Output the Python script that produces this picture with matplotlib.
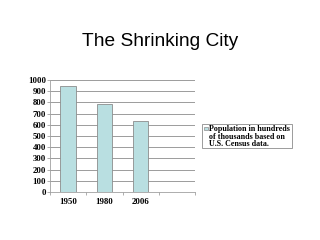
import numpy as np
import matplotlib
matplotlib.use('Agg')
import matplotlib.pyplot as plt
from matplotlib.patches import Rectangle

years = ['1950', '1980', '2006']
population = [945, 785, 630]
legend_label = 'Population in hundreds\nof thousands based on\nU.S. Census data.'
title = 'The Shrinking City'

fig = plt.figure(figsize=(3.2, 2.4), dpi=100)
fig.text(0.5, 0.825, title, ha='center', va='center', fontsize=13.8,
         family='Liberation Sans')

ax = fig.add_axes([50 / 320, 1 - 192 / 240, 145 / 320, 112 / 240])
x = np.arange(len(years))
bar_color = '#b9dfe1'
ax.bar(x, population, width=0.43, color=bar_color, edgecolor='#8c8c8c',
       linewidth=0.6, zorder=3)

ax.set_xlim(-0.5, 3.5)
ax.set_ylim(0, 1000)
ax.set_yticks(range(0, 1001, 100))
ax.set_xticks(x)
ax.set_xticklabels(years)
ax.set_xticks(np.arange(-0.5, 4.0, 1.0), minor=True)
ax.tick_params(axis='x', which='major', length=0, pad=4)
ax.tick_params(axis='x', which='minor', length=2, color='#a0a0a0', width=0.6)
ax.tick_params(axis='y', length=2, color='#a0a0a0', width=0.6, pad=1)
for lab in ax.get_xticklabels() + ax.get_yticklabels():
    lab.set_family('Liberation Serif')
    lab.set_fontweight('bold')
    lab.set_fontsize(6.3)

ax.grid(axis='y', color='#8c8c8c', linewidth=0.6, zorder=0)
for side in ['top', 'right']:
    ax.spines[side].set_visible(False)
for side in ['left', 'bottom']:
    ax.spines[side].set_color('#a0a0a0')
    ax.spines[side].set_linewidth(0.6)

# legend box drawn by hand so the marker sits on the first line
W, H = 320, 240
fig.patches.append(Rectangle((202 / W, 1 - 148 / H), 90 / W, 24 / H,
                             transform=fig.transFigure, facecolor='white',
                             edgecolor='#8c8c8c', linewidth=0.6))
fig.patches.append(Rectangle((204 / W, 1 - 130 / H), 3.5 / W, 3.5 / H,
                             transform=fig.transFigure, facecolor=bar_color,
                             edgecolor='#8c8c8c', linewidth=0.5))
fig.text(209 / W, 1 - 125 / H, legend_label, ha='left', va='top',
         family='Liberation Serif', fontweight='bold', fontsize=5.8,
         linespacing=0.95)

fig.savefig('out.png', dpi=100)
